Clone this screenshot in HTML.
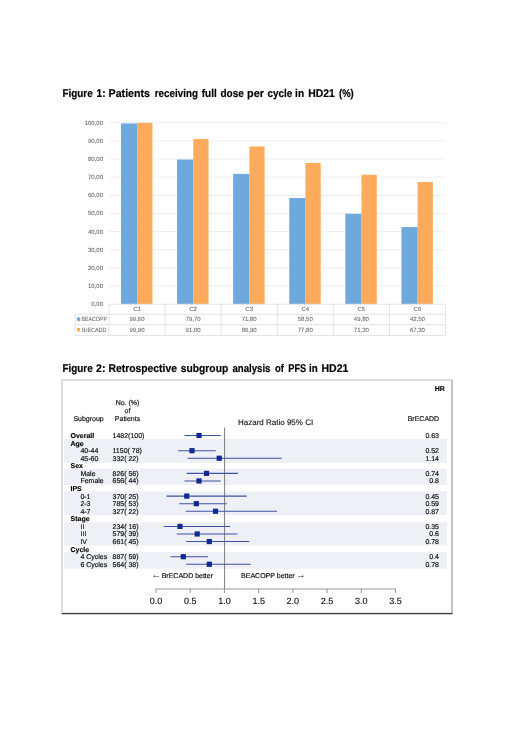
<!DOCTYPE html>
<html lang="en"><head><meta charset="utf-8"><title>HD21 figures</title>
<style>
html,body{margin:0;padding:0;background:#fff;}
body{width:520px;height:735px;overflow:hidden;}
svg{display:block;}
text{font-family:"Liberation Sans",Arial,sans-serif;}
text{filter:grayscale(1);text-rendering:geometricPrecision;}
.t{font-weight:bold;font-size:11.2px;fill:#000;stroke:#000;stroke-width:0.2px;}
.ax{font-size:6px;fill:#6a6a6a;stroke:#6a6a6a;stroke-width:0.08px;}
.f7{font-size:7px;fill:#111;stroke:#111;stroke-width:0.18px;}
.f7b{font-size:7px;fill:#000;font-weight:bold;stroke:#000;stroke-width:0.15px;}
.ar{font-size:9.5px;fill:#333;}
.ii{letter-spacing:0.055px;stroke-width:0.1px;}
.f8{font-size:8px;fill:#111;stroke:#111;stroke-width:0.12px;}
.f9{font-size:9px;fill:#111;stroke:#111;stroke-width:0.12px;}
</style></head><body>
<svg width="520" height="735" viewBox="0 0 520 735">
<rect width="520" height="735" fill="#fff"/>
<g class="tx">
<text class="t" y="96.5"><tspan x="62.50" textLength="30.20" lengthAdjust="spacingAndGlyphs">Figure</tspan> <tspan x="96.50" textLength="9.00" lengthAdjust="spacingAndGlyphs">1:</tspan> <tspan x="108.60" textLength="41.40" lengthAdjust="spacingAndGlyphs">Patients</tspan> <tspan x="154.80" textLength="43.10" lengthAdjust="spacingAndGlyphs">receiving</tspan> <tspan x="201.70" textLength="15.00" lengthAdjust="spacingAndGlyphs">full</tspan> <tspan x="220.50" textLength="23.40" lengthAdjust="spacingAndGlyphs">dose</tspan> <tspan x="247.10" textLength="16.90" lengthAdjust="spacingAndGlyphs">per</tspan> <tspan x="267.50" textLength="24.70" lengthAdjust="spacingAndGlyphs">cycle</tspan> <tspan x="295.10" textLength="9.00" lengthAdjust="spacingAndGlyphs">in</tspan> <tspan x="308.20" textLength="26.60" lengthAdjust="spacingAndGlyphs">HD21</tspan> <tspan x="339.00" textLength="14.70" lengthAdjust="spacingAndGlyphs">(%)</tspan></text>
<g stroke="#e8e8e8" stroke-width="0.8" fill="none">
<line x1="109.0" x2="445.5" y1="286.05" y2="286.05"/>
<line x1="109.0" x2="445.5" y1="267.90" y2="267.90"/>
<line x1="109.0" x2="445.5" y1="249.75" y2="249.75"/>
<line x1="109.0" x2="445.5" y1="231.60" y2="231.60"/>
<line x1="109.0" x2="445.5" y1="213.45" y2="213.45"/>
<line x1="109.0" x2="445.5" y1="195.30" y2="195.30"/>
<line x1="109.0" x2="445.5" y1="177.15" y2="177.15"/>
<line x1="109.0" x2="445.5" y1="159.00" y2="159.00"/>
<line x1="109.0" x2="445.5" y1="140.85" y2="140.85"/>
<line x1="109.0" x2="445.5" y1="122.70" y2="122.70"/>
</g>
<rect x="121.00" y="123.43" width="16.25" height="180.77" fill="#6fa8dc"/>
<rect x="137.20" y="122.88" width="15.25" height="181.32" fill="#fcab5c"/>
<rect x="177.08" y="159.54" width="16.25" height="144.66" fill="#6fa8dc"/>
<rect x="193.28" y="139.03" width="15.25" height="165.16" fill="#fcab5c"/>
<rect x="233.17" y="173.88" width="16.25" height="130.32" fill="#6fa8dc"/>
<rect x="249.37" y="146.48" width="15.25" height="157.72" fill="#fcab5c"/>
<rect x="289.25" y="198.02" width="16.25" height="106.18" fill="#6fa8dc"/>
<rect x="305.45" y="162.99" width="15.25" height="141.21" fill="#fcab5c"/>
<rect x="345.33" y="213.81" width="16.25" height="90.39" fill="#6fa8dc"/>
<rect x="361.53" y="174.79" width="15.25" height="129.41" fill="#fcab5c"/>
<rect x="401.42" y="227.06" width="16.25" height="77.14" fill="#6fa8dc"/>
<rect x="417.62" y="182.05" width="15.25" height="122.15" fill="#fcab5c"/>
<text class="ax" x="103" y="306.10" text-anchor="end">0,00</text>
<text class="ax" x="103" y="287.95" text-anchor="end">10,00</text>
<text class="ax" x="103" y="269.80" text-anchor="end">20,00</text>
<text class="ax" x="103" y="251.65" text-anchor="end">30,00</text>
<text class="ax" x="103" y="233.50" text-anchor="end">40,00</text>
<text class="ax" x="103" y="215.35" text-anchor="end">50,00</text>
<text class="ax" x="103" y="197.20" text-anchor="end">60,00</text>
<text class="ax" x="103" y="179.05" text-anchor="end">70,00</text>
<text class="ax" x="103" y="160.90" text-anchor="end">80,00</text>
<text class="ax" x="103" y="142.75" text-anchor="end">90,00</text>
<text class="ax" x="103" y="124.60" text-anchor="end">100,00</text>
<g stroke="#e0e0e0" stroke-width="0.9" fill="none">
<line x1="109.0" x2="445.5" y1="304.25" y2="304.25"/>
<line x1="75" x2="445.5" y1="314.3" y2="314.3"/>
<line x1="75" x2="445.5" y1="324.8" y2="324.8"/>
<line x1="75" x2="445.5" y1="335.4" y2="335.4"/>
<line x1="75" x2="75" y1="314.3" y2="335.4"/>
<line x1="109.00" x2="109.00" y1="304.25" y2="335.4"/>
<line x1="165.08" x2="165.08" y1="304.25" y2="335.4"/>
<line x1="221.17" x2="221.17" y1="304.25" y2="335.4"/>
<line x1="277.25" x2="277.25" y1="304.25" y2="335.4"/>
<line x1="333.33" x2="333.33" y1="304.25" y2="335.4"/>
<line x1="389.42" x2="389.42" y1="304.25" y2="335.4"/>
<line x1="445.50" x2="445.50" y1="304.25" y2="335.4"/>
</g>
<text class="ax" x="137.04" y="310.77" text-anchor="middle">C1</text>
<text class="ax" x="137.04" y="321.15" text-anchor="middle">99,60</text>
<text class="ax" x="137.04" y="331.70" text-anchor="middle">99,90</text>
<text class="ax" x="193.12" y="310.77" text-anchor="middle">C2</text>
<text class="ax" x="193.12" y="321.15" text-anchor="middle">79,70</text>
<text class="ax" x="193.12" y="331.70" text-anchor="middle">91,00</text>
<text class="ax" x="249.21" y="310.77" text-anchor="middle">C3</text>
<text class="ax" x="249.21" y="321.15" text-anchor="middle">71,80</text>
<text class="ax" x="249.21" y="331.70" text-anchor="middle">86,90</text>
<text class="ax" x="305.29" y="310.77" text-anchor="middle">C4</text>
<text class="ax" x="305.29" y="321.15" text-anchor="middle">58,50</text>
<text class="ax" x="305.29" y="331.70" text-anchor="middle">77,80</text>
<text class="ax" x="361.38" y="310.77" text-anchor="middle">C5</text>
<text class="ax" x="361.38" y="321.15" text-anchor="middle">49,80</text>
<text class="ax" x="361.38" y="331.70" text-anchor="middle">71,30</text>
<text class="ax" x="417.46" y="310.77" text-anchor="middle">C6</text>
<text class="ax" x="417.46" y="321.15" text-anchor="middle">42,50</text>
<text class="ax" x="417.46" y="331.70" text-anchor="middle">67,30</text>
<rect x="77.0" y="317.45" width="3.2" height="3.5" fill="#6fa8dc"/>
<rect x="77.0" y="327.90" width="3.2" height="3.5" fill="#fcab5c"/>
<text class="ax" x="81.6" y="321.15" textLength="25.3" lengthAdjust="spacingAndGlyphs">BEACOPP</text>
<text class="ax" x="82" y="331.70" textLength="24.3" lengthAdjust="spacingAndGlyphs">BrECADD</text>
<text class="t" y="371.5"><tspan x="62.50" textLength="30.20" lengthAdjust="spacingAndGlyphs">Figure</tspan> <tspan x="96.10" textLength="9.40" lengthAdjust="spacingAndGlyphs">2:</tspan> <tspan x="108.60" textLength="68.30" lengthAdjust="spacingAndGlyphs">Retrospective</tspan> <tspan x="180.80" textLength="47.40" lengthAdjust="spacingAndGlyphs">subgroup</tspan> <tspan x="232.40" textLength="38.10" lengthAdjust="spacingAndGlyphs">analysis</tspan> <tspan x="274.90" textLength="8.90" lengthAdjust="spacingAndGlyphs">of</tspan> <tspan x="288.30" textLength="18.00" lengthAdjust="spacingAndGlyphs">PFS</tspan> <tspan x="309.10" textLength="8.70" lengthAdjust="spacingAndGlyphs">in</tspan> <tspan x="321.50" textLength="26.90" lengthAdjust="spacingAndGlyphs">HD21</tspan></text>
<rect x="62.0" y="380.0" width="390" height="233.2" fill="#fff" stroke="#d2d2d2" stroke-width="1.5"/>
<line x1="451.9" x2="451.9" y1="380" y2="613.6" stroke="#b8b8b8" stroke-width="1.4"/>
<line x1="61.8" x2="452.6" y1="613.65" y2="613.65" stroke="#3c3c3c" stroke-width="1.4"/>
<rect x="63.8" y="438.7" width="383.3" height="24.20" fill="#eff0f6"/>
<rect x="63.8" y="468.7" width="383.3" height="16.20" fill="#eff0f6"/>
<rect x="63.8" y="491.3" width="383.3" height="23.80" fill="#eff0f6"/>
<rect x="63.8" y="522.3" width="383.3" height="23.30" fill="#eff0f6"/>
<rect x="63.8" y="552.0" width="383.3" height="16.80" fill="#eff0f6"/>
<text class="f7b" x="444.8" y="391.4" text-anchor="end">HR</text>
<text class="f7" x="127.5" y="405.0" text-anchor="middle">No. (%)</text>
<text class="f7" x="127.5" y="413.3" text-anchor="middle">of</text>
<text class="f7" x="127.5" y="421.0" text-anchor="middle">Patients</text>
<text class="f7" x="73.4" y="421.0">Subgroup</text>
<text class="f8" x="238" y="424.5">Hazard Ratio 95% CI</text>
<text class="f7" x="439.2" y="421.0" text-anchor="end">BrECADD</text>
<line x1="224.6" x2="224.6" y1="427.5" y2="589" stroke="#7c7c7c" stroke-width="1"/>
<text class="f7b" x="70.5" y="438.00">Overall</text>
<text class="f7" x="112.5" y="438.00">1482(100)</text>
<text class="f7" x="439.0" y="438.00" text-anchor="end">0.63</text>
<line x1="184.5" x2="220.75" y1="435.50" y2="435.50" stroke="#3c52a2" stroke-width="1.05"/>
<rect x="196.40" y="432.90" width="5.2" height="5.2" fill="#0e2a8f"/>
<text class="f7b" x="70.5" y="445.57">Age</text>
<text class="f7" x="80.4" y="453.15">40-44</text>
<text class="f7" x="112.5" y="453.15">1150( 78)</text>
<text class="f7" x="439.0" y="453.15" text-anchor="end">0.52</text>
<line x1="178.25" x2="215.75" y1="450.65" y2="450.65" stroke="#3c52a2" stroke-width="1.05"/>
<rect x="189.40" y="448.05" width="5.2" height="5.2" fill="#0e2a8f"/>
<text class="f7" x="80.4" y="460.73">45-60</text>
<text class="f7" x="112.5" y="460.73">332( 22)</text>
<text class="f7" x="439.0" y="460.73" text-anchor="end">1.14</text>
<line x1="187.5" x2="282.0" y1="458.23" y2="458.23" stroke="#3c52a2" stroke-width="1.05"/>
<rect x="216.65" y="455.62" width="5.2" height="5.2" fill="#0e2a8f"/>
<text class="f7b" x="70.5" y="468.30">Sex</text>
<text class="f7" x="80.4" y="475.88">Male</text>
<text class="f7" x="112.5" y="475.88">826( 56)</text>
<text class="f7" x="439.0" y="475.88" text-anchor="end">0.74</text>
<line x1="186.75" x2="238.0" y1="473.38" y2="473.38" stroke="#3c52a2" stroke-width="1.05"/>
<rect x="203.90" y="470.77" width="5.2" height="5.2" fill="#0e2a8f"/>
<text class="f7" x="80.4" y="483.45">Female</text>
<text class="f7" x="112.5" y="483.45">656( 44)</text>
<text class="f7" x="439.0" y="483.45" text-anchor="end">0.8</text>
<line x1="184.5" x2="220.75" y1="480.95" y2="480.95" stroke="#3c52a2" stroke-width="1.05"/>
<rect x="196.40" y="478.35" width="5.2" height="5.2" fill="#0e2a8f"/>
<text class="f7b" x="70.5" y="491.02">IPS</text>
<text class="f7" x="80.4" y="498.60">0-1</text>
<text class="f7" x="112.5" y="498.60">370( 25)</text>
<text class="f7" x="439.0" y="498.60" text-anchor="end">0.45</text>
<line x1="166.5" x2="246.75" y1="496.10" y2="496.10" stroke="#3c52a2" stroke-width="1.05"/>
<rect x="184.15" y="493.50" width="5.2" height="5.2" fill="#0e2a8f"/>
<text class="f7" x="80.4" y="506.18">2-3</text>
<text class="f7" x="112.5" y="506.18">785( 53)</text>
<text class="f7" x="439.0" y="506.18" text-anchor="end">0.59</text>
<line x1="179.25" x2="226.75" y1="503.68" y2="503.68" stroke="#3c52a2" stroke-width="1.05"/>
<rect x="193.70" y="501.07" width="5.2" height="5.2" fill="#0e2a8f"/>
<text class="f7" x="80.4" y="513.75">4-7</text>
<text class="f7" x="112.5" y="513.75">327( 22)</text>
<text class="f7" x="439.0" y="513.75" text-anchor="end">0.87</text>
<line x1="185.75" x2="277.0" y1="511.25" y2="511.25" stroke="#3c52a2" stroke-width="1.05"/>
<rect x="212.90" y="508.65" width="5.2" height="5.2" fill="#0e2a8f"/>
<text class="f7b" x="70.5" y="521.33">Stage</text>
<text class="f7 ii" x="80.4" y="528.90">II</text>
<text class="f7" x="112.5" y="528.90">234( 16)</text>
<text class="f7" x="439.0" y="528.90" text-anchor="end">0.35</text>
<line x1="163.75" x2="230.0" y1="526.40" y2="526.40" stroke="#3c52a2" stroke-width="1.05"/>
<rect x="177.40" y="523.80" width="5.2" height="5.2" fill="#0e2a8f"/>
<text class="f7 ii" x="80.4" y="536.48">III</text>
<text class="f7" x="112.5" y="536.48">579( 39)</text>
<text class="f7" x="439.0" y="536.48" text-anchor="end">0.6</text>
<line x1="176.75" x2="237.5" y1="533.98" y2="533.98" stroke="#3c52a2" stroke-width="1.05"/>
<rect x="194.60" y="531.38" width="5.2" height="5.2" fill="#0e2a8f"/>
<text class="f7" x="80.4" y="544.05">IV</text>
<text class="f7" x="112.5" y="544.05">661( 45)</text>
<text class="f7" x="439.0" y="544.05" text-anchor="end">0.78</text>
<line x1="186.25" x2="249.25" y1="541.55" y2="541.55" stroke="#3c52a2" stroke-width="1.05"/>
<rect x="206.70" y="538.95" width="5.2" height="5.2" fill="#0e2a8f"/>
<text class="f7b" x="70.5" y="551.62">Cycle</text>
<text class="f7" x="80.4" y="559.20">4 Cycles</text>
<text class="f7" x="112.5" y="559.20">887( 59)</text>
<text class="f7" x="439.0" y="559.20" text-anchor="end">0.4</text>
<line x1="170.5" x2="208.0" y1="556.70" y2="556.70" stroke="#3c52a2" stroke-width="1.05"/>
<rect x="180.70" y="554.10" width="5.2" height="5.2" fill="#0e2a8f"/>
<text class="f7" x="80.4" y="566.77">6 Cycles</text>
<text class="f7" x="112.5" y="566.77">564( 38)</text>
<text class="f7" x="439.0" y="566.77" text-anchor="end">0.78</text>
<line x1="186.25" x2="250.75" y1="564.27" y2="564.27" stroke="#3c52a2" stroke-width="1.05"/>
<rect x="206.70" y="561.67" width="5.2" height="5.2" fill="#0e2a8f"/>
<g stroke="#8a8a8a" stroke-width="0.9" fill="none">
<line x1="155.6" x2="395.9" y1="589" y2="589"/>
<line x1="156.00" x2="156.00" y1="589" y2="593"/>
<line x1="190.22" x2="190.22" y1="589" y2="593"/>
<line x1="224.43" x2="224.43" y1="589" y2="593"/>
<line x1="258.64" x2="258.64" y1="589" y2="593"/>
<line x1="292.86" x2="292.86" y1="589" y2="593"/>
<line x1="327.08" x2="327.08" y1="589" y2="593"/>
<line x1="361.29" x2="361.29" y1="589" y2="593"/>
<line x1="395.50" x2="395.50" y1="589" y2="593"/>
</g>
<text class="f9" x="156.00" y="603.8" text-anchor="middle">0.0</text>
<text class="f9" x="190.22" y="603.8" text-anchor="middle">0.5</text>
<text class="f9" x="224.43" y="603.8" text-anchor="middle">1.0</text>
<text class="f9" x="258.64" y="603.8" text-anchor="middle">1.5</text>
<text class="f9" x="292.86" y="603.8" text-anchor="middle">2.0</text>
<text class="f9" x="327.08" y="603.8" text-anchor="middle">2.5</text>
<text class="f9" x="361.29" y="603.8" text-anchor="middle">3.0</text>
<text class="f9" x="395.50" y="603.8" text-anchor="middle">3.5</text>
<text class="ar" x="151.5" y="578.3">←</text>
<text class="f7" x="161.7" y="577.9">BrECADD better</text>
<text class="f7" x="241.1" y="577.9">BEACOPP better</text>
<text class="ar" x="295.9" y="578.3">→</text>
</g>
</svg></body></html>
